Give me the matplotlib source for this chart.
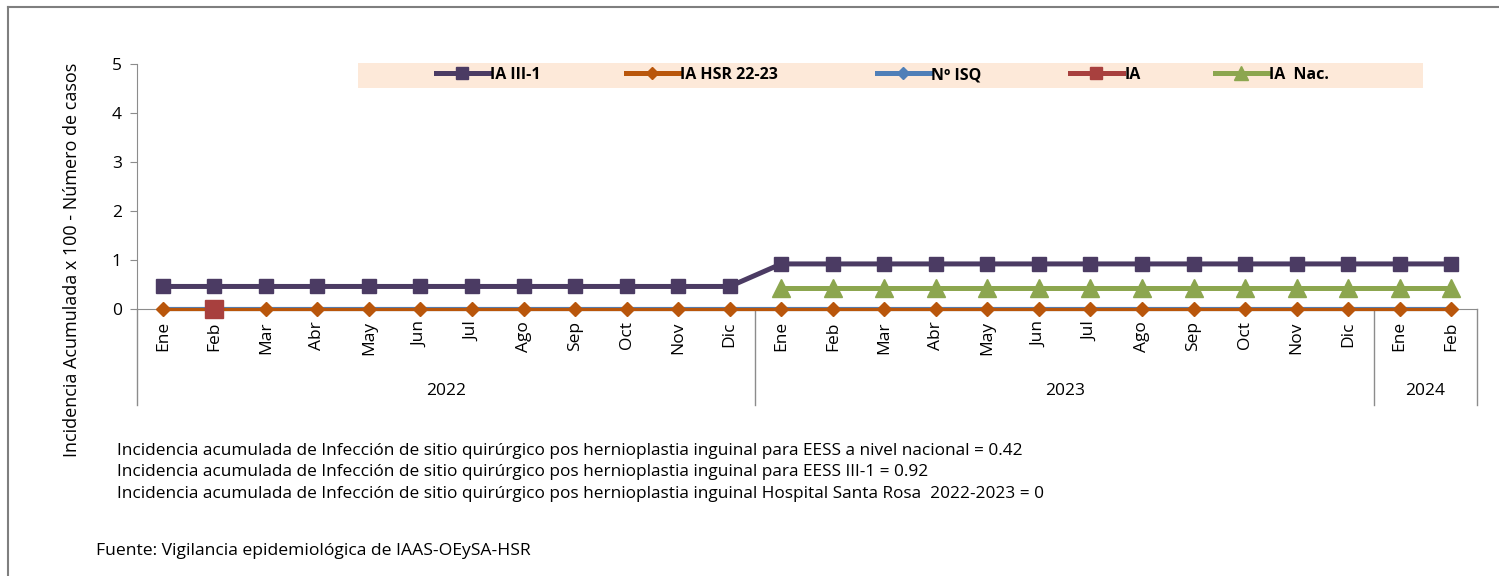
import numpy as np
import matplotlib
matplotlib.use('Agg')
from matplotlib import pyplot as plt
from matplotlib.lines import Line2D

matplotlib.rcParams['font.family'] = ['Open Sans', 'DejaVu Sans']

meses = ['Ene', 'Feb', 'Mar', 'Abr', 'May', 'Jun', 'Jul', 'Ago', 'Sep', 'Oct', 'Nov', 'Dic']
etiquetas = meses + meses + ['Ene', 'Feb']
anios = ['2022', '2023', '2024']
n_por_anio = [12, 12, 2]

ia_iii1 = [0.46] * 12 + [0.92] * 14
ia_hsr = [0] * 26
n_isq = [0] * 26
ia = [np.nan, 0] + [np.nan] * 24
ia_nac = [np.nan] * 12 + [0.42] * 14

textos = [
    'Incidencia acumulada de Infección de sitio quirúrgico pos hernioplastia inguinal para EESS a nivel nacional = 0.42',
    'Incidencia acumulada de Infección de sitio quirúrgico pos hernioplastia inguinal para EESS III-1 = 0.92',
    'Incidencia acumulada de Infección de sitio quirúrgico pos hernioplastia inguinal Hospital Santa Rosa  2022-2023 = 0',
]
fuente = 'Fuente: Vigilancia epidemiológica de IAAS-OEySA-HSR'

c_morado = '#4B3B63'
c_naranja = '#B9560B'
c_azul = '#4F7FB8'
c_rojo = '#A8403E'
c_verde = '#8CA64F'
c_eje = '#8C8C8C'

fig = plt.figure(figsize=(14.99, 5.76), dpi=100)
ax = fig.add_axes([137 / 1499, 1 - 309 / 576, (1477 - 137) / 1499, 245 / 576])

x = np.arange(len(etiquetas))
ax.plot(x, n_isq, color=c_azul, lw=3, marker='D', ms=6, zorder=2, clip_on=False)
ax.plot(x, ia_iii1, color=c_morado, lw=3.6, marker='s', ms=10, zorder=3, clip_on=False)
ax.plot(x, ia_nac, color=c_verde, lw=3.6, marker='^', ms=13, zorder=3, clip_on=False)
ax.plot(x, ia_hsr, color=c_naranja, lw=2.3, marker='D', ms=7, zorder=4, clip_on=False)
ax.plot(x, ia, color=c_rojo, lw=3, marker='s', ms=13, zorder=5, clip_on=False)

ax.set_xlim(-0.5, len(etiquetas) - 0.5)
ax.set_ylim(0, 5)
ax.set_yticks(range(6))
ax.tick_params(axis='y', length=5, color=c_eje, labelsize=12.5, pad=6)
ax.set_xticks([])
for s in ['top', 'right']:
    ax.spines[s].set_visible(False)
ax.spines['left'].set_color(c_eje)
ax.spines['bottom'].set_color(c_eje)
ax.spines['left'].set_bounds(0, 5)

# etiquetas de meses y años (eje de categorías de dos niveles)
trans = ax.get_xaxis_transform()
for i, lab in enumerate(etiquetas):
    ax.text(i, -0.05, lab, rotation=90, ha='center', va='top', fontsize=12.5, transform=trans)

y_fondo = -96 / 245
inicio = -0.5
for anio, n in zip(anios, n_por_anio):
    fin = inicio + n
    ax.text((inicio + fin) / 2, -82 / 245, anio, ha='center', va='center', fontsize=12.5, transform=trans)
    inicio = fin
bordes = np.cumsum([0] + n_por_anio) - 0.5
for b in bordes:
    ax.add_line(Line2D([b, b], [0, y_fondo], transform=trans, color=c_eje, lw=1, clip_on=False))

fig.text(72 / 1499, 1 - 260 / 576, 'Incidencia Acumulada x 100 - Número de casos',
         rotation=90, ha='center', va='center', fontsize=13)

# leyenda (cada entrada en su sitio, como en Excel)
fig.patches.append(plt.Rectangle((358 / 1499, 1 - 88 / 576), (1423 - 358) / 1499, 25 / 576,
                                 transform=fig.transFigure, facecolor='#FDE9D9', edgecolor='none', zorder=0))
handles = [
    Line2D([], [], color=c_morado, lw=3.6, marker='s', ms=9),
    Line2D([], [], color=c_naranja, lw=3.6, marker='D', ms=6),
    Line2D([], [], color=c_azul, lw=3.6, marker='D', ms=6),
    Line2D([], [], color=c_rojo, lw=3.6, marker='s', ms=9),
    Line2D([], [], color=c_verde, lw=3.6, marker='^', ms=10),
]
nombres = ['IA III-1', 'IA HSR 22-23', 'Nº ISQ', 'IA', 'IA  Nac.']
pos_leyenda = [436, 626, 877, 1070, 1215]
for h, nom, px in zip(handles, nombres, pos_leyenda):
    lg = fig.legend([h], [nom], loc='center left', bbox_to_anchor=(px / 1499, 1 - 75 / 576),
                    frameon=False, handlelength=3.3, handletextpad=0.1, borderpad=0, borderaxespad=0,
                    prop={'weight': 'bold', 'size': 11.5})

for k, t in enumerate(textos):
    fig.text(117 / 1499, 1 - (451 + 21.5 * k) / 576, t, ha='left', va='center', fontsize=12.4)
fig.text(96 / 1499, 1 - 551 / 576, fuente, ha='left', va='center', fontsize=12.6)

# marco exterior
fig.add_artist(Line2D([8 / 1499, 8 / 1499], [0, 1 - 7 / 576], transform=fig.transFigure, color='#7F7F7F', lw=1.5))
fig.add_artist(Line2D([8 / 1499, 1], [1 - 7 / 576, 1 - 7 / 576], transform=fig.transFigure, color='#7F7F7F', lw=1.5))

fig.savefig('out.png', dpi=100)
